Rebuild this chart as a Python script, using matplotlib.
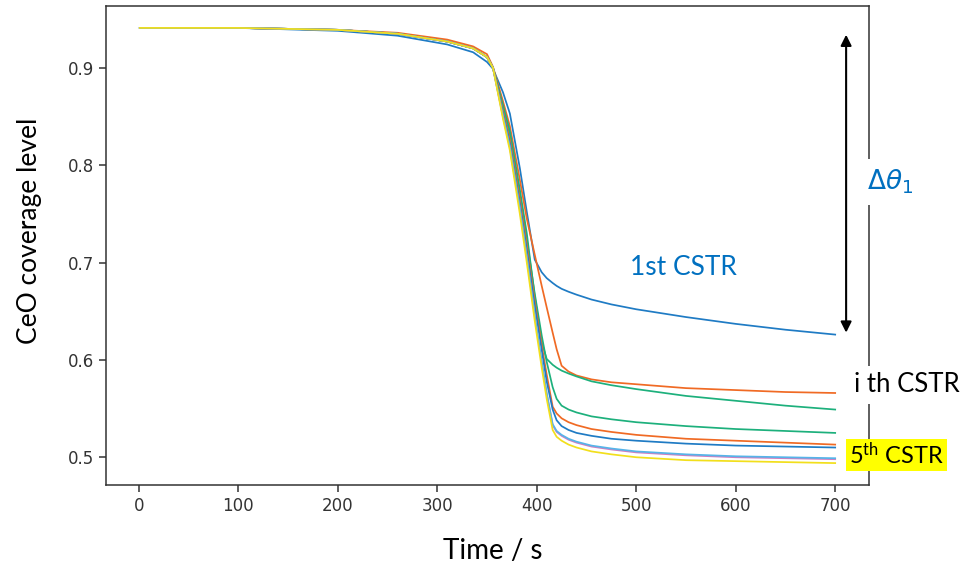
import numpy as np
import matplotlib.pyplot as plt

plt.rcParams['mathtext.rm'] = 'Lato'
plt.rcParams['mathtext.it'] = 'Lato:italic'

# time points (s)
t = [1, 100, 200, 260, 310, 336, 350, 356, 366, 373, 383, 390, 398, 405, 410,
     416, 420, 425, 432, 440, 455, 475, 500, 550, 600, 650, 700]

early = [0.941, 0.941, 0.939, 0.935, 0.927, 0.920, 0.911, 0.900]

cstr_1 = [0.941, 0.941, 0.938, 0.933, 0.924, 0.916, 0.906, 0.899, 0.875, 0.853, 0.797,
          0.752, 0.703, 0.690, 0.684, 0.679, 0.676, 0.673, 0.670, 0.667, 0.662, 0.657,
          0.652, 0.644, 0.637, 0.631, 0.626]
orange_a = [0.941, 0.941, 0.939, 0.936, 0.929, 0.922, 0.914, 0.901, 0.866, 0.840, 0.785,
            0.745, 0.708, 0.676, 0.654, 0.628, 0.611, 0.594, 0.588, 0.584, 0.580, 0.577,
            0.575, 0.571, 0.569, 0.567, 0.566]
green_a = early + [0.862, 0.835, 0.775, 0.730, 0.665, 0.618, 0.601, 0.595, 0.592, 0.589,
                   0.586, 0.583, 0.578, 0.574, 0.570, 0.563, 0.558, 0.553, 0.549]
green_b = early + [0.858, 0.830, 0.770, 0.723, 0.668, 0.625, 0.598, 0.572, 0.560, 0.553,
                   0.549, 0.546, 0.542, 0.539, 0.536, 0.532, 0.529, 0.527, 0.525]
orange_b = early + [0.856, 0.826, 0.765, 0.718, 0.660, 0.615, 0.585, 0.552, 0.545, 0.540,
                    0.536, 0.533, 0.529, 0.526, 0.523, 0.519, 0.517, 0.515, 0.513]
blue_b = early + [0.853, 0.822, 0.760, 0.712, 0.655, 0.610, 0.578, 0.549, 0.538, 0.532,
                  0.528, 0.525, 0.522, 0.519, 0.517, 0.514, 0.512, 0.511, 0.510]
pink = early + [0.850, 0.818, 0.755, 0.705, 0.645, 0.598, 0.565, 0.533, 0.526, 0.522,
                0.518, 0.515, 0.511, 0.508, 0.505, 0.502, 0.500, 0.499, 0.498]
light_blue = early + [0.851, 0.819, 0.756, 0.706, 0.646, 0.599, 0.566, 0.534, 0.527, 0.523,
                      0.519, 0.516, 0.512, 0.509, 0.506, 0.503, 0.501, 0.500, 0.499]
yellow = early + [0.848, 0.815, 0.750, 0.700, 0.640, 0.592, 0.560, 0.528, 0.521, 0.517,
                  0.513, 0.510, 0.506, 0.503, 0.500, 0.497, 0.496, 0.495, 0.494]

series = [cstr_1, orange_a, green_a, green_b, orange_b, blue_b, pink, light_blue, yellow]
colors = ['#1f7bc4', '#f06a24', '#1db07c', '#1db07c', '#f06a24', '#1f7bc4',
          '#d07fc0', '#56b4e9', '#f2df1c']

W, H = 966, 569
fig = plt.figure(figsize=(W / 100, H / 100), dpi=100)
ax = fig.add_axes([106 / W, 1 - 485 / H, (869 - 106) / W, (485 - 6) / H])

for vals, c in zip(series, colors):
	ax.plot(t, vals, color=c, lw=1.25)

ax.set_xlim(-33, 734)
ax.set_ylim(0.4715, 0.9635)
ax.set_xticks([0, 100, 200, 300, 400, 500, 600, 700])
ax.set_yticks([0.5, 0.6, 0.7, 0.8, 0.9])
ax.tick_params(labelsize=12, length=5, width=1.1, colors='#333333', labelcolor='#333333')
for sp in ax.spines.values():
	sp.set_linewidth(1.1)
	sp.set_color('#333333')

# double arrow showing the drop of the first CSTR
ax.annotate('', xy=(711, 0.628), xytext=(711, 0.934),
            arrowprops=dict(arrowstyle='<|-|>', color='black', lw=1.5, mutation_scale=16,
                            shrinkA=0, shrinkB=0))

font = 'Lato'
blue_txt = '#0070C0'


def fx(px):
	return px / W


def fy(py):
	return 1 - py / H


fig.text(fx(30), fy(231), 'CeO coverage level', rotation=90, ha='center', va='center',
         fontsize=19, family=font)
fig.text(fx(493), fy(551), 'Time / s', ha='center', va='center', fontsize=20, family=font)
fig.text(fx(683), fy(267), '1st CSTR', ha='center', va='center', fontsize=19,
         family=font, color=blue_txt)
fig.text(fx(890), fy(182), r'$\Delta\theta_1$', ha='center', va='center', fontsize=19,
         color=blue_txt, math_fontfamily='dejavusans',
         bbox=dict(facecolor='white', edgecolor='none', pad=6))
fig.text(fx(854), fy(385), 'i th CSTR', ha='left', va='center', fontsize=18.5, family=font,
         bbox=dict(facecolor='white', edgecolor='none', pad=5))
fig.text(fx(849), fy(455), r'5$^{\rm th}$ CSTR', ha='left', va='center', fontsize=17,
         family=font, math_fontfamily='custom',
         bbox=dict(facecolor='#ffff00', edgecolor='none', pad=2))

fig.savefig('out.png', dpi=100)
